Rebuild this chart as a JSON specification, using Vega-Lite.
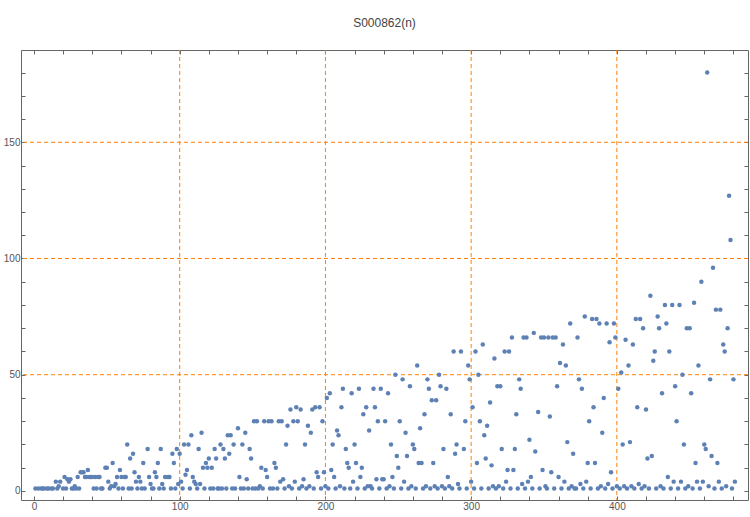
{
  "$schema": "https://vega.github.io/schema/vega-lite/v6.json",
  "width": 727,
  "height": 450,
  "autosize": "none",
  "padding": {"left": 21, "top": 50, "right": 2, "bottom": 17},
  "title": {"text": "S000862(n)", "fontSize": 12, "font": "Liberation Sans", "fontWeight": "normal", "color": "#444444", "offset": 20},
  "config": {
    "view": {"stroke": null},
    "axis": {"domainColor": "#666666", "tickColor": "#666666", "labelColor": "#555555", "labelFont": "Liberation Sans", "labelFontSize": 10, "grid": false, "title": null, "labelPadding": 5}
  },
  "datasets": {
    "vg": [{"x": 100}, {"x": 200}, {"x": 300}, {"x": 400}],
    "hg": [{"y": 50}, {"y": 100}, {"y": 150}],
    "seq": [
      {"n":1,"v":1},{"n":3,"v":1},{"n":5,"v":1},{"n":6,"v":1},{"n":7,"v":1},{"n":9,"v":1},{"n":10,"v":1},{"n":12,"v":1},{"n":13,"v":1},{"n":15,"v":4},
      {"n":16,"v":1},{"n":17,"v":2},{"n":18,"v":4},{"n":20,"v":1},{"n":21,"v":6},{"n":22,"v":1},{"n":23,"v":5},{"n":24,"v":4},{"n":25,"v":5},{"n":26,"v":1},
      {"n":27,"v":1},{"n":28,"v":2},{"n":29,"v":1},{"n":30,"v":6},{"n":31,"v":1},{"n":32,"v":8},{"n":33,"v":8},{"n":34,"v":8},{"n":35,"v":6},{"n":36,"v":6},
      {"n":37,"v":9},{"n":38,"v":6},{"n":39,"v":6},{"n":40,"v":6},{"n":41,"v":1},{"n":42,"v":6},{"n":43,"v":1},{"n":44,"v":6},{"n":45,"v":6},{"n":46,"v":1},
      {"n":47,"v":1},{"n":49,"v":10},{"n":50,"v":10},{"n":51,"v":4},{"n":52,"v":1},{"n":53,"v":2},{"n":54,"v":12},{"n":55,"v":2},{"n":56,"v":3},{"n":57,"v":6},
      {"n":58,"v":1},{"n":59,"v":9},{"n":60,"v":6},{"n":61,"v":1},{"n":62,"v":6},{"n":63,"v":6},{"n":64,"v":20},{"n":65,"v":1},{"n":66,"v":14},{"n":67,"v":1},
      {"n":68,"v":16},{"n":69,"v":8},{"n":70,"v":4},{"n":71,"v":1},{"n":72,"v":6},{"n":73,"v":4},{"n":74,"v":1},{"n":75,"v":12},{"n":76,"v":1},{"n":78,"v":18},
      {"n":79,"v":6},{"n":80,"v":3},{"n":81,"v":1},{"n":82,"v":1},{"n":83,"v":8},{"n":84,"v":6},{"n":85,"v":12},{"n":86,"v":1},{"n":87,"v":18},{"n":88,"v":3},
      {"n":89,"v":1},{"n":90,"v":6},{"n":92,"v":6},{"n":93,"v":6},{"n":94,"v":1},{"n":95,"v":16},{"n":96,"v":12},{"n":97,"v":1},{"n":98,"v":18},{"n":99,"v":3},
      {"n":100,"v":16},{"n":101,"v":4},{"n":102,"v":1},{"n":103,"v":20},{"n":104,"v":7},{"n":105,"v":9},{"n":106,"v":20},{"n":107,"v":1},{"n":108,"v":24},{"n":109,"v":6},
      {"n":110,"v":4},{"n":111,"v":3},{"n":112,"v":1},{"n":113,"v":18},{"n":114,"v":3},{"n":115,"v":25},{"n":116,"v":10},{"n":117,"v":1},{"n":118,"v":12},{"n":119,"v":10},
      {"n":120,"v":14},{"n":121,"v":1},{"n":122,"v":10},{"n":123,"v":1},{"n":124,"v":18},{"n":125,"v":14},{"n":126,"v":1},{"n":127,"v":1},{"n":128,"v":20},{"n":129,"v":1},
      {"n":130,"v":18},{"n":131,"v":14},{"n":132,"v":1},{"n":133,"v":24},{"n":134,"v":16},{"n":135,"v":24},{"n":136,"v":1},{"n":137,"v":20},{"n":138,"v":1},{"n":140,"v":27},
      {"n":141,"v":6},{"n":142,"v":1},{"n":143,"v":20},{"n":144,"v":1},{"n":145,"v":25},{"n":146,"v":5},{"n":147,"v":1},{"n":148,"v":18},{"n":149,"v":14},{"n":150,"v":1},
      {"n":151,"v":30},{"n":152,"v":1},{"n":153,"v":30},{"n":154,"v":1},{"n":155,"v":2},{"n":156,"v":10},{"n":157,"v":1},{"n":158,"v":30},{"n":159,"v":9},{"n":160,"v":6},
      {"n":161,"v":30},{"n":162,"v":1},{"n":163,"v":30},{"n":164,"v":1},{"n":165,"v":12},{"n":166,"v":10},{"n":167,"v":1},{"n":168,"v":30},{"n":169,"v":4},{"n":170,"v":30},
      {"n":171,"v":5},{"n":172,"v":1},{"n":173,"v":20},{"n":174,"v":28},{"n":175,"v":2},{"n":176,"v":35},{"n":177,"v":1},{"n":178,"v":30},{"n":179,"v":4},{"n":180,"v":36},
      {"n":181,"v":30},{"n":182,"v":1},{"n":183,"v":35},{"n":184,"v":2},{"n":185,"v":5},{"n":186,"v":20},{"n":187,"v":1},{"n":188,"v":28},{"n":189,"v":2},{"n":190,"v":25},
      {"n":191,"v":35},{"n":192,"v":1},{"n":193,"v":36},{"n":194,"v":8},{"n":195,"v":6},{"n":196,"v":36},{"n":197,"v":1},{"n":198,"v":30},{"n":199,"v":8},{"n":200,"v":2},
      {"n":201,"v":40},{"n":202,"v":1},{"n":203,"v":42},{"n":204,"v":9},{"n":205,"v":20},{"n":206,"v":6},{"n":207,"v":1},{"n":208,"v":26},{"n":209,"v":24},{"n":210,"v":2},
      {"n":211,"v":36},{"n":212,"v":44},{"n":213,"v":1},{"n":214,"v":18},{"n":215,"v":12},{"n":216,"v":10},{"n":217,"v":1},{"n":218,"v":42},{"n":219,"v":4},{"n":220,"v":20},
      {"n":221,"v":12},{"n":222,"v":1},{"n":223,"v":44},{"n":224,"v":6},{"n":225,"v":10},{"n":226,"v":33},{"n":227,"v":1},{"n":228,"v":36},{"n":229,"v":2},{"n":230,"v":26},
      {"n":231,"v":2},{"n":232,"v":1},{"n":233,"v":44},{"n":234,"v":36},{"n":235,"v":5},{"n":236,"v":30},{"n":237,"v":1},{"n":238,"v":44},{"n":239,"v":5},{"n":240,"v":5},
      {"n":241,"v":30},{"n":242,"v":1},{"n":243,"v":42},{"n":244,"v":2},{"n":245,"v":20},{"n":246,"v":6},{"n":247,"v":1},{"n":248,"v":50},{"n":249,"v":15},{"n":250,"v":10},
      {"n":251,"v":30},{"n":252,"v":1},{"n":253,"v":48},{"n":254,"v":4},{"n":255,"v":25},{"n":256,"v":15},{"n":257,"v":1},{"n":258,"v":45},{"n":259,"v":2},{"n":260,"v":20},
      {"n":261,"v":18},{"n":262,"v":1},{"n":263,"v":54},{"n":264,"v":12},{"n":265,"v":27},{"n":266,"v":12},{"n":267,"v":1},{"n":268,"v":33},{"n":269,"v":2},{"n":270,"v":48},
      {"n":271,"v":44},{"n":272,"v":1},{"n":273,"v":39},{"n":274,"v":12},{"n":275,"v":2},{"n":276,"v":39},{"n":277,"v":1},{"n":278,"v":50},{"n":279,"v":45},{"n":280,"v":2},
      {"n":281,"v":18},{"n":282,"v":1},{"n":283,"v":44},{"n":284,"v":6},{"n":285,"v":2},{"n":286,"v":33},{"n":287,"v":1},{"n":288,"v":60},{"n":289,"v":16},{"n":290,"v":20},
      {"n":291,"v":3},{"n":292,"v":1},{"n":293,"v":60},{"n":295,"v":18},{"n":296,"v":30},{"n":297,"v":1},{"n":298,"v":54},{"n":299,"v":48},{"n":300,"v":4},{"n":301,"v":36},
      {"n":302,"v":1},{"n":303,"v":60},{"n":304,"v":12},{"n":305,"v":50},{"n":306,"v":30},{"n":307,"v":1},{"n":308,"v":63},{"n":309,"v":24},{"n":310,"v":14},{"n":311,"v":28},
      {"n":312,"v":1},{"n":313,"v":38},{"n":314,"v":11},{"n":315,"v":2},{"n":316,"v":57},{"n":317,"v":1},{"n":318,"v":45},{"n":319,"v":2},{"n":320,"v":45},{"n":321,"v":18},
      {"n":322,"v":1},{"n":323,"v":60},{"n":324,"v":4},{"n":325,"v":9},{"n":326,"v":60},{"n":327,"v":1},{"n":328,"v":66},{"n":329,"v":9},{"n":330,"v":18},{"n":331,"v":33},
      {"n":332,"v":1},{"n":333,"v":48},{"n":334,"v":44},{"n":335,"v":3},{"n":336,"v":66},{"n":337,"v":1},{"n":338,"v":66},{"n":339,"v":4},{"n":340,"v":22},{"n":341,"v":6},
      {"n":342,"v":1},{"n":343,"v":68},{"n":344,"v":17},{"n":346,"v":34},{"n":347,"v":1},{"n":348,"v":66},{"n":349,"v":9},{"n":350,"v":66},{"n":351,"v":2},{"n":352,"v":1},
      {"n":353,"v":66},{"n":354,"v":32},{"n":355,"v":8},{"n":356,"v":66},{"n":357,"v":1},{"n":358,"v":66},{"n":359,"v":45},{"n":360,"v":6},{"n":361,"v":55},{"n":362,"v":1},
      {"n":363,"v":63},{"n":364,"v":4},{"n":365,"v":54},{"n":366,"v":21},{"n":367,"v":1},{"n":368,"v":72},{"n":369,"v":2},{"n":370,"v":16},{"n":371,"v":1},{"n":372,"v":1},
      {"n":373,"v":66},{"n":374,"v":48},{"n":375,"v":3},{"n":376,"v":44},{"n":377,"v":1},{"n":378,"v":75},{"n":379,"v":4},{"n":380,"v":12},{"n":381,"v":30},{"n":382,"v":1},
      {"n":383,"v":74},{"n":384,"v":36},{"n":385,"v":12},{"n":386,"v":74},{"n":387,"v":1},{"n":388,"v":72},{"n":389,"v":2},{"n":390,"v":25},{"n":391,"v":40},{"n":392,"v":1},
      {"n":393,"v":72},{"n":394,"v":3},{"n":395,"v":64},{"n":396,"v":8},{"n":397,"v":1},{"n":398,"v":72},{"n":399,"v":66},{"n":400,"v":2},{"n":401,"v":44},{"n":402,"v":1},
      {"n":403,"v":51},{"n":404,"v":20},{"n":405,"v":2},{"n":406,"v":65},{"n":407,"v":1},{"n":408,"v":54},{"n":409,"v":21},{"n":410,"v":2},{"n":411,"v":63},{"n":412,"v":1},
      {"n":413,"v":74},{"n":414,"v":36},{"n":415,"v":3},{"n":416,"v":74},{"n":417,"v":1},{"n":418,"v":70},{"n":419,"v":2},{"n":420,"v":35},{"n":421,"v":14},{"n":422,"v":1},
      {"n":423,"v":84},{"n":424,"v":15},{"n":425,"v":56},{"n":426,"v":60},{"n":427,"v":1},{"n":428,"v":75},{"n":429,"v":70},{"n":430,"v":2},{"n":431,"v":42},{"n":432,"v":1},
      {"n":433,"v":80},{"n":434,"v":72},{"n":435,"v":6},{"n":436,"v":60},{"n":437,"v":1},{"n":438,"v":80},{"n":439,"v":4},{"n":440,"v":45},{"n":441,"v":30},{"n":442,"v":1},
      {"n":443,"v":80},{"n":444,"v":4},{"n":445,"v":50},{"n":446,"v":20},{"n":447,"v":1},{"n":448,"v":70},{"n":449,"v":2},{"n":450,"v":70},{"n":451,"v":42},{"n":452,"v":1},
      {"n":453,"v":81},{"n":454,"v":12},{"n":455,"v":4},{"n":456,"v":54},{"n":457,"v":1},{"n":458,"v":90},{"n":459,"v":4},{"n":460,"v":20},{"n":461,"v":18},{"n":462,"v":180},
      {"n":463,"v":2},{"n":464,"v":48},{"n":465,"v":15},{"n":466,"v":96},{"n":467,"v":1},{"n":468,"v":78},{"n":469,"v":12},{"n":470,"v":4},{"n":471,"v":78},{"n":472,"v":1},
      {"n":473,"v":63},{"n":474,"v":60},{"n":475,"v":2},{"n":476,"v":70},{"n":477,"v":127},{"n":478,"v":108},{"n":479,"v":1},{"n":480,"v":48},{"n":481,"v":4}
    ]
  },
  "layer": [
    {
      "data": {"name": "vg"},
      "mark": {"type": "rule", "color": "#FF8000", "strokeDash": [4, 3], "strokeWidth": 1},
      "encoding": {
        "x": {"field": "x", "type": "quantitative",
          "scale": {"domain": [-8.9, 490], "nice": false, "zero": false},
          "axis": {"orient": "top", "values": [0,20,40,60,80,100,120,140,160,180,200,220,240,260,280,300,320,340,360,380,400,420,440,460,480], "labels": false, "tickSize": -4}}
      }
    },
    {
      "data": {"name": "hg"},
      "mark": {"type": "rule", "color": "#FF8000", "strokeDash": [4, 3], "strokeWidth": 1},
      "encoding": {
        "y": {"field": "y", "type": "quantitative",
          "scale": {"domain": [-3.9, 189.7], "nice": false, "zero": false},
          "axis": {"orient": "right", "values": [0,10,20,30,40,50,60,70,80,90,100,110,120,130,140,150,160,170,180], "labels": false, "tickSize": -4}}
      }
    },
    {
      "data": {"name": "seq"},
      "mark": {"type": "circle", "size": 20, "color": "#5E81B5", "opacity": 1},
      "encoding": {
        "x": {"field": "n", "type": "quantitative",
          "scale": {"domain": [-8.9, 490], "nice": false, "zero": false},
          "axis": {"orient": "bottom", "values": [0,20,40,60,80,100,120,140,160,180,200,220,240,260,280,300,320,340,360,380,400,420,440,460,480], "labelExpr": "datum.value % 100 === 0 ? datum.label : ''", "tickSize": -4}},
        "y": {"field": "v", "type": "quantitative",
          "scale": {"domain": [-3.9, 189.7], "nice": false, "zero": false},
          "axis": {"orient": "left", "values": [0,10,20,30,40,50,60,70,80,90,100,110,120,130,140,150,160,170,180], "labelExpr": "datum.value % 50 === 0 ? datum.label : ''", "tickSize": -4}}
      }
    }
  ],
  "resolve": {"axis": {"x": "independent", "y": "independent"}}
}
